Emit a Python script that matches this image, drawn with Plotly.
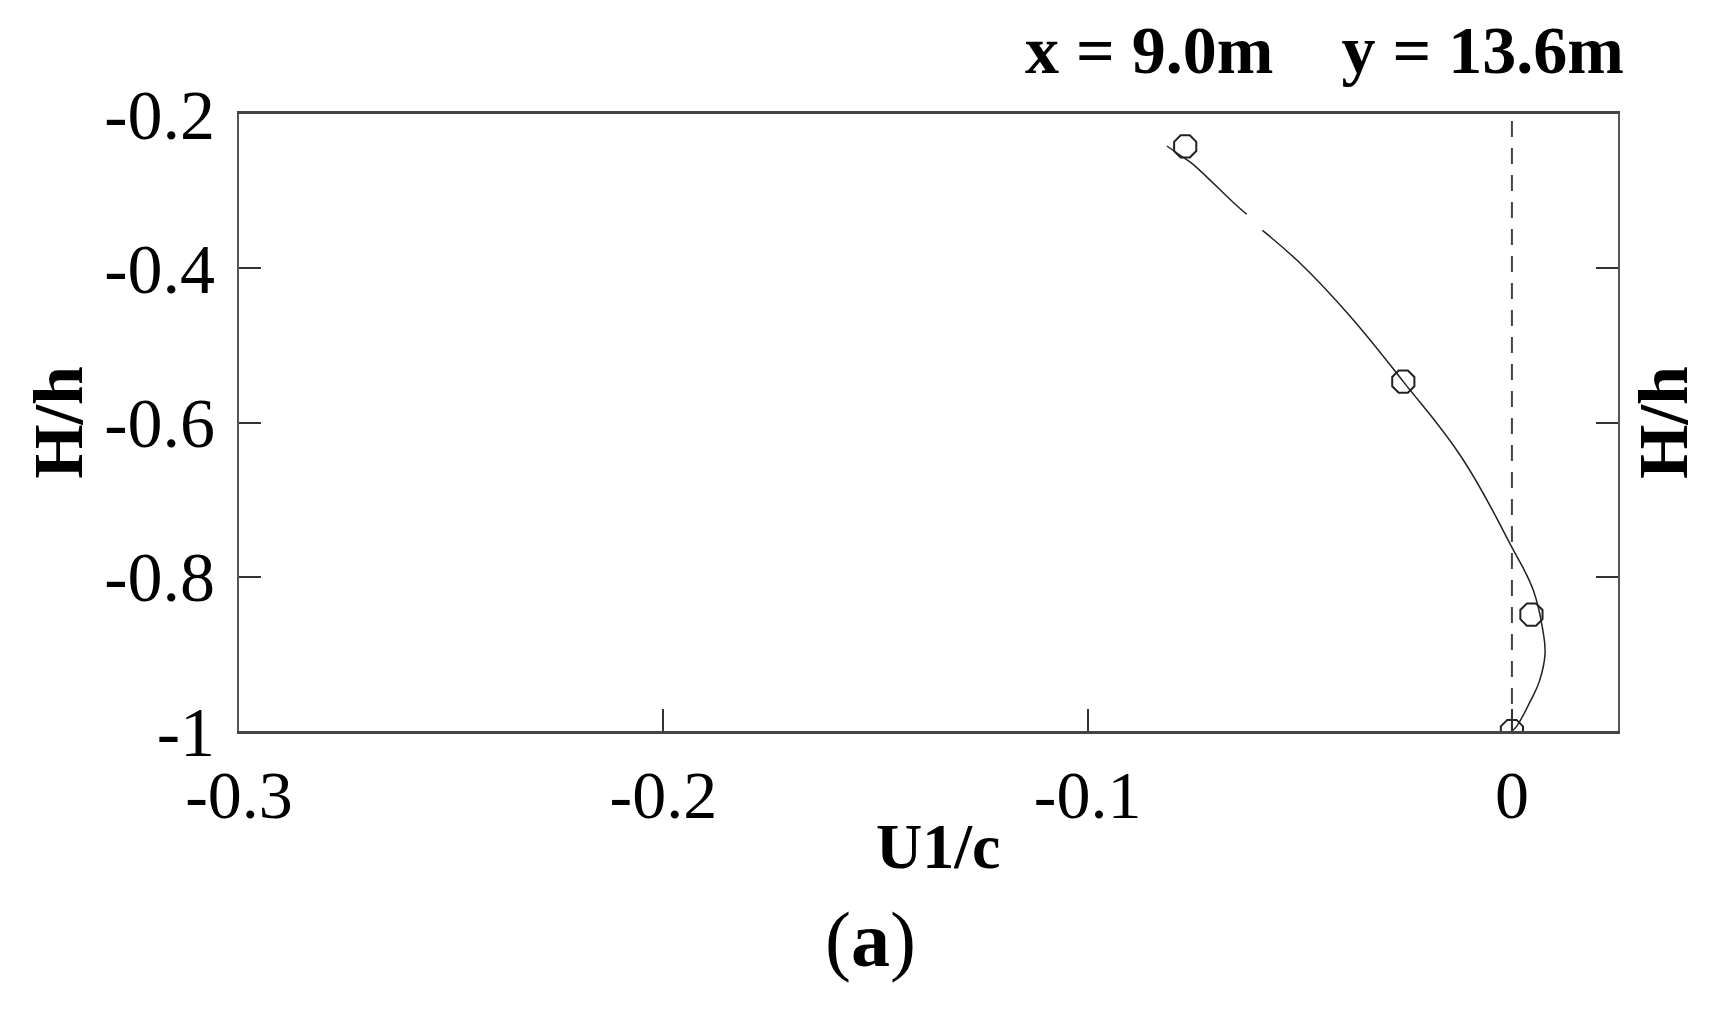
import plotly.graph_objects as go

# measured points (open markers)
marker_x = [-0.077, -0.0256, 0.0046, 0.0]
marker_y = [-0.242, -0.547, -0.849, -1.0]

# fitted curve (with a small gap near H/h = -0.34)
curve_x = [-0.0813, -0.0778, -0.0755, -0.0656, -0.0625, None,
           -0.0588, -0.0502, -0.0385, -0.0256, -0.0118, 0.0, 0.005,
           0.0073, 0.0078, 0.0065, 0.0042, 0.0011, 0.0]
curve_y = [-0.2415, -0.255, -0.2636, -0.315, -0.330, None,
           -0.351, -0.392, -0.460, -0.547, -0.6457, -0.762, -0.817,
           -0.870, -0.900, -0.935, -0.963, -0.994, -1.0]

# zero reference line
ref_x = [0.0, 0.0]
ref_y = [-1.0, -0.2]

x_ticks = [-0.3, -0.2, -0.1, 0.0]
x_tick_text = ["-0.3", "-0.2", "-0.1", "0"]
y_ticks = [-1.0, -0.8, -0.6, -0.4, -0.2]
y_tick_text = ["-1", "-0.8", "-0.6", "-0.4", "-0.2"]

header = "x = 9.0m\u00a0\u00a0\u00a0 y = 13.6m"
x_title = "U1/c"
y_title = "H/h"
panel = "a"

FONT = "Liberation Serif"

fig = go.Figure()
fig.add_trace(go.Scatter(x=ref_x, y=ref_y, mode="lines",
                         line=dict(color="#444444", width=2, dash="16px,11px"),
                         showlegend=False, hoverinfo="skip"))
fig.add_trace(go.Scatter(x=curve_x, y=curve_y, mode="lines",
                         line=dict(color="#222222", width=1.5, shape="spline", smoothing=1.2),
                         connectgaps=False, showlegend=False))
fig.add_trace(go.Scatter(x=marker_x, y=marker_y, mode="markers",
                         marker=dict(symbol="octagon-open", size=24, color="#222222",
                                     line=dict(color="#222222", width=2)),
                         showlegend=False))

fig.update_xaxes(range=[-0.3, 0.025], tickvals=x_ticks, ticktext=x_tick_text,
                 ticks="inside", ticklen=22, tickwidth=1.5, tickcolor="#333333",
                 showline=True, linecolor="#444444", linewidth=2.5, mirror=True,
                 showgrid=False, zeroline=False,
                 tickfont=dict(family=FONT, size=68, color="black"),
                 ticklabelstandoff=3)
fig.update_yaxes(range=[-1.0, -0.2], tickvals=y_ticks, ticktext=y_tick_text,
                 ticks="inside", ticklen=22, tickwidth=1.5, tickcolor="#333333",
                 showline=True, linecolor="#555555", linewidth=2, mirror="ticks",
                 showgrid=False, zeroline=False,
                 tickfont=dict(family=FONT, size=70, color="black"),
                 ticklabelstandoff=8)

ann = []
ann.append(dict(text="<b>" + header + "</b>", x=1.006, y=1.103, xref="paper", yref="paper",
                xanchor="right", yanchor="middle", showarrow=False,
                font=dict(family=FONT, size=68, color="black")))
ann.append(dict(text="<b>" + y_title + "</b>", x=-0.131, y=0.5, xref="paper", yref="paper",
                xanchor="center", yanchor="middle", textangle=-90, showarrow=False,
                font=dict(family=FONT, size=70, color="black")))
ann.append(dict(text="<b>" + y_title + "</b>", x=1.033, y=0.5, xref="paper", yref="paper",
                xanchor="center", yanchor="middle", textangle=-90, showarrow=False,
                font=dict(family=FONT, size=70, color="black")))
ann.append(dict(text="<b>" + x_title + "</b>", x=0.507, y=-0.187, xref="paper", yref="paper",
                xanchor="center", yanchor="middle", showarrow=False,
                font=dict(family=FONT, size=64, color="black")))
ann.append(dict(text="(<b>" + panel + "</b>)", x=0.4576, y=-0.338, xref="paper", yref="paper",
                xanchor="center", yanchor="middle", showarrow=False,
                font=dict(family=FONT, size=78, color="black")))

fig.update_layout(width=1717, height=1021,
                  margin=dict(l=231, r=107, t=106, b=298),
                  paper_bgcolor="white", plot_bgcolor="white",
                  annotations=ann, showlegend=False)

fig.write_html("out.html")
